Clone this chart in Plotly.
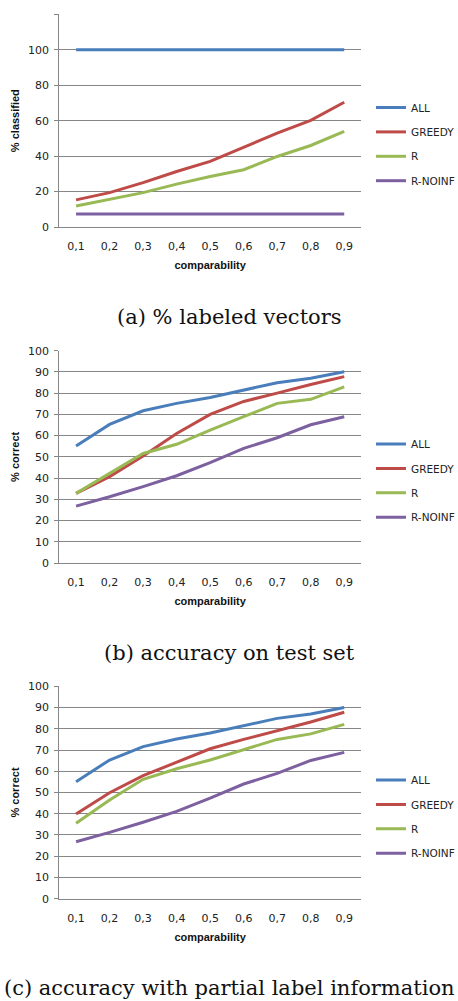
import plotly.graph_objects as go

comparability = ["0,1", "0,2", "0,3", "0,4", "0,5", "0,6", "0,7", "0,8", "0,9"]
series_names = ["ALL", "GREEDY", "R", "R-NOINF"]
colors = ["#4A7EBB", "#BE4B48", "#98B954", "#7D60A0"]

# (a) % labeled vectors
a_all = [100, 100, 100, 100, 100, 100, 100, 100, 100]
a_greedy = [15.3, 19.4, 25.0, 31.3, 37.0, 44.9, 53.0, 60.2, 70.4]
a_r = [11.9, 15.7, 19.4, 24.2, 28.5, 32.3, 39.8, 46.0, 54.0]
a_noinf = [7.3, 7.3, 7.3, 7.3, 7.3, 7.3, 7.3, 7.3, 7.3]

# (b) accuracy on test set
b_all = [55.1, 65.3, 71.7, 75.2, 78.0, 81.3, 84.9, 87.0, 90.1]
b_greedy = [32.8, 40.7, 50.4, 61.0, 70.0, 76.1, 80.0, 84.1, 87.8]
b_r = [32.8, 42.2, 51.6, 55.9, 62.6, 68.9, 75.2, 77.1, 83.0]
b_noinf = [26.8, 31.2, 36.0, 41.1, 47.3, 54.0, 59.0, 65.1, 68.9]

# (c) accuracy with partial label information
c_all = [55.1, 65.3, 71.6, 75.2, 78.0, 81.3, 84.9, 87.0, 90.0]
c_greedy = [39.9, 49.9, 57.9, 64.2, 70.6, 75.0, 79.1, 83.2, 87.8]
c_r = [35.5, 46.5, 56.2, 61.2, 65.3, 70.0, 75.0, 77.6, 82.1]
c_noinf = [26.8, 31.2, 36.0, 41.1, 47.3, 54.0, 59.0, 65.1, 68.9]

panels = [
    dict(data=[a_all, a_greedy, a_r, a_noinf], ytitle="% classified",
         ticks=[0, 20, 40, 60, 80, 100, 120], ymax=120,
         caption="(a) % labeled vectors"),
    dict(data=[b_all, b_greedy, b_r, b_noinf], ytitle="% correct",
         ticks=list(range(0, 101, 10)), ymax=100,
         caption="(b) accuracy on test set"),
    dict(data=[c_all, c_greedy, c_r, c_noinf], ytitle="% correct",
         ticks=list(range(0, 101, 10)), ymax=100,
         caption="(c) accuracy with partial label information"),
]

W, H = 458, 1001
# pixel geometry (top, bottom) of each plot area
plot_px = [(14.3, 227.0), (350.7, 563.0), (686.3, 898.7)]
legend_top_px = [93, 429.5, 765.5]
caption_px = [317, 653, 988]
x_left, x_right = 59.3, 361.0

fig = go.Figure()
layout = dict(
    width=W, height=H, margin=dict(l=0, r=0, t=0, b=0, autoexpand=False),
    paper_bgcolor="white", plot_bgcolor="white",
    font=dict(family="DejaVu Sans", size=11, color="#222222"),
    annotations=[],
)

for i, p in enumerate(panels):
    n = "" if i == 0 else str(i + 1)
    leg = "legend" if i == 0 else "legend" + str(i + 1)
    for j, name in enumerate(series_names):
        fig.add_trace(go.Scatter(
            x=comparability, y=p["data"][j], name=name, mode="lines",
            line=dict(color=colors[j], width=3),
            xaxis="x" + n, yaxis="y" + n, legend=leg,
            legendgroup=f"{i}-{name}",
        ))
    top, bot = plot_px[i]
    layout["xaxis" + n] = dict(
        domain=[x_left / W, x_right / W], anchor="y" + n,
        type="category", range=[-0.5, 8.5],
        showline=True, linecolor="#868686", linewidth=1,
        showgrid=False, ticks="", ticklabelstandoff=9,
        tickfont=dict(family="DejaVu Sans", size=11, color="#222222"),
        title=dict(text="<b>comparability</b>", standoff=9,
                   font=dict(family="Liberation Sans", size=11, color="#111111")),
        automargin=False, fixedrange=True,
    )
    ticktext = [str(t) if t <= 100 else "" for t in p["ticks"]]
    layout["yaxis" + n] = dict(
        domain=[(H - bot) / H, (H - top) / H], anchor="x" + n,
        range=[0, p["ymax"]], tickvals=p["ticks"], ticktext=ticktext,
        showline=True, linecolor="#868686", linewidth=1,
        showgrid=True, gridcolor="#868686", gridwidth=1,
        ticks="outside", ticklen=4, tickcolor="#868686",
        ticklabelstandoff=3,
        zeroline=False,
        tickfont=dict(family="DejaVu Sans", size=11, color="#222222"),
        title=dict(text="<b>" + p["ytitle"] + "</b>", standoff=6,
                   font=dict(family="Liberation Sans", size=11, color="#111111")),
        automargin=False, fixedrange=True,
    )
    layout[leg] = dict(
        x=371 / W, y=(H - legend_top_px[i]) / H, xanchor="left", yanchor="top",
        bgcolor="rgba(0,0,0,0)", tracegroupgap=5.4,
        font=dict(family="DejaVu Sans", size=10.5, color="#222222"),
    )
    layout["annotations"].append(dict(
        text=p["caption"], xref="paper", yref="paper",
        x=230 / W, y=(H - caption_px[i]) / H, xanchor="center", yanchor="middle",
        showarrow=False,
        font=dict(family="DejaVu Serif", size=21, color="#111111"),
    ))

fig.update_layout(**layout)
fig.write_html(
    "out.html",
    config={"displayModeBar": False},
    post_script="document.body.style.margin='0';document.body.style.padding='0';"
                "document.body.style.overflow='hidden';",
)
